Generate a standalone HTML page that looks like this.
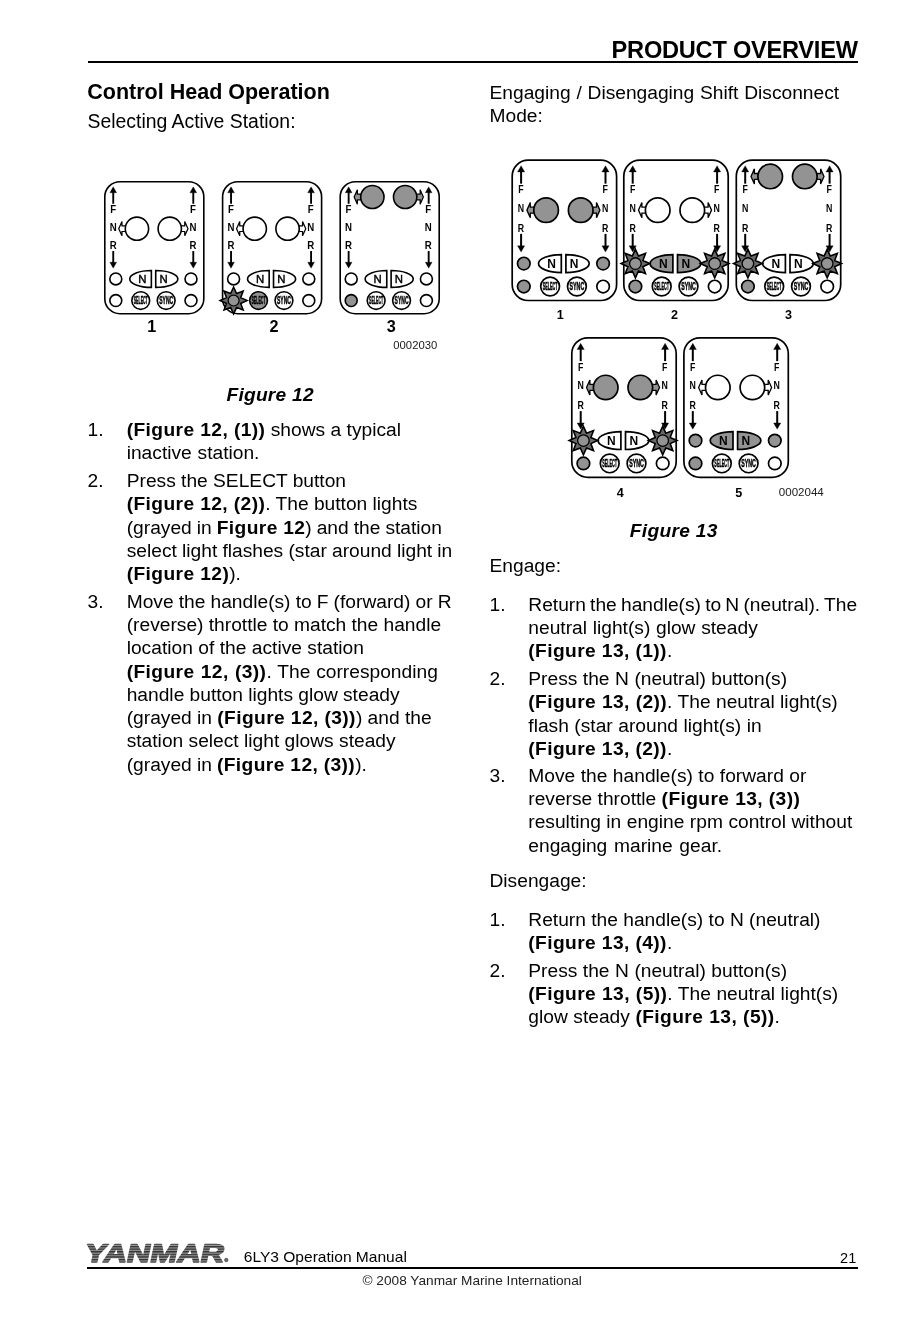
<!DOCTYPE html>
<html><head><meta charset="utf-8"><title>Product Overview</title>
<style>
html,body{margin:0;padding:0;background:#fff;}
body{width:910px;height:1330px;position:relative;overflow:hidden;will-change:transform;font-family:"Liberation Sans",sans-serif;color:#000;}
.ln{position:absolute;white-space:nowrap;line-height:1;}
.b{font-weight:bold;}
b{font-weight:bold;letter-spacing:0.4px;}
.bi{font-weight:bold;font-style:italic;}
.rule{position:absolute;background:#000;}
.figs{position:absolute;left:0;top:0;}
</style></head><body>
<svg class="figs" width="910" height="1330" viewBox="0 0 910 1330"><defs><pattern id="stripes" width="3" height="2.6" patternUnits="userSpaceOnUse">
<rect width="3" height="2.6" fill="#9a9a9a"/><rect width="3" height="1.4" fill="#303030"/></pattern></defs>
<text transform="translate(83.6,1261.5) skewX(-12) scale(1.27,1)" font-family="Liberation Sans" font-weight="bold" font-size="25.5" fill="url(#stripes)" stroke="url(#stripes)" stroke-width="1.5" stroke-linejoin="round">YANMAR</text>
<circle cx="226.3" cy="1260" r="1.7" fill="#777" stroke="#333" stroke-width="0.7"/><g transform="translate(104.80,181.70) scale(0.9483,0.9395)">
<rect x="0" y="0" width="104.40" height="140.50" rx="16" ry="16" fill="#fff" stroke="#000" stroke-width="1.70"/>
<text transform="translate(8.80,33.00) scale(0.900,1)" text-anchor="middle" font-family="Liberation Sans" font-weight="bold" font-size="11.3">F</text>
<text transform="translate(92.90,33.00) scale(0.900,1)" text-anchor="middle" font-family="Liberation Sans" font-weight="bold" font-size="11.3">F</text>
<text transform="translate(8.80,52.00) scale(0.900,1)" text-anchor="middle" font-family="Liberation Sans" font-weight="bold" font-size="11.3">N</text>
<text transform="translate(92.90,52.00) scale(0.900,1)" text-anchor="middle" font-family="Liberation Sans" font-weight="bold" font-size="11.3">N</text>
<text transform="translate(8.80,71.50) scale(0.900,1)" text-anchor="middle" font-family="Liberation Sans" font-weight="bold" font-size="11.3">R</text>
<text transform="translate(92.90,71.50) scale(0.900,1)" text-anchor="middle" font-family="Liberation Sans" font-weight="bold" font-size="11.3">R</text>
<polygon points="14.70,50.00 18.10,42.40 18.10,47.00 22.10,47.00 22.10,53.00 18.10,53.00 18.10,57.60" fill="#fff" stroke="#000" stroke-width="1.3" stroke-linejoin="miter"/>
<circle cx="33.90" cy="50.00" r="12.3" fill="#fff" stroke="#000" stroke-width="1.70"/>
<polygon points="87.70,50.00 84.30,42.40 84.30,47.00 80.30,47.00 80.30,53.00 84.30,53.00 84.30,57.60" fill="#fff" stroke="#000" stroke-width="1.3" stroke-linejoin="miter"/>
<circle cx="68.50" cy="50.00" r="12.3" fill="#fff" stroke="#000" stroke-width="1.70"/>
<path d="M49.10,94.50 A22.80,9.00 0 0 0 49.10,112.50 Z" fill="#fff" stroke="#000" stroke-width="1.70"/><text x="39.50" y="107.80" text-anchor="middle" font-family="Liberation Sans" font-weight="normal" font-size="12" fill="#000" stroke="#000" stroke-width="0.45">N</text>
<path d="M53.70,94.50 A23.30,9.00 0 0 1 53.70,112.50 Z" fill="#fff" stroke="#000" stroke-width="1.70"/><text x="62.00" y="107.80" text-anchor="middle" font-family="Liberation Sans" font-weight="normal" font-size="12" fill="#000" stroke="#000" stroke-width="0.45">N</text>
<circle cx="37.90" cy="126.50" r="9.4" fill="#fff" stroke="#000" stroke-width="1.70"/><text transform="translate(37.90,130.20) scale(0.350,1)" text-anchor="middle" font-family="Liberation Sans" font-weight="bold" font-size="10.8" fill="#000" stroke="#000" stroke-width="0.5">SELECT</text>
<circle cx="64.70" cy="126.50" r="9.4" fill="#fff" stroke="#000" stroke-width="1.70"/><text transform="translate(64.70,130.20) scale(0.490,1)" text-anchor="middle" font-family="Liberation Sans" font-weight="bold" font-size="10.8" fill="#000" stroke="#000" stroke-width="0.5">SYNC</text>
<circle cx="11.60" cy="103.50" r="6.3" fill="#fff" stroke="#000" stroke-width="1.70"/>
<circle cx="90.90" cy="103.50" r="6.3" fill="#fff" stroke="#000" stroke-width="1.70"/>
<circle cx="11.60" cy="126.50" r="6.3" fill="#fff" stroke="#000" stroke-width="1.70"/>
<circle cx="90.90" cy="126.50" r="6.3" fill="#fff" stroke="#000" stroke-width="1.70"/>
<line x1="8.90" y1="9.50" x2="8.90" y2="23.50" stroke="#000" stroke-width="2.0"/><polygon points="8.90,5.50 5.30,11.80 12.50,11.80" fill="#000" stroke="#000" stroke-width="0.3"/>
<line x1="93.30" y1="9.50" x2="93.30" y2="23.50" stroke="#000" stroke-width="2.0"/><polygon points="93.30,5.50 89.70,11.80 96.90,11.80" fill="#000" stroke="#000" stroke-width="0.3"/>
<line x1="8.90" y1="73.80" x2="8.90" y2="88.00" stroke="#000" stroke-width="2.0"/><polygon points="8.90,92.00 5.30,85.70 12.50,85.70" fill="#000" stroke="#000" stroke-width="0.3"/>
<line x1="93.30" y1="73.80" x2="93.30" y2="88.00" stroke="#000" stroke-width="2.0"/><polygon points="93.30,92.00 89.70,85.70 96.90,85.70" fill="#000" stroke="#000" stroke-width="0.3"/>
</g>
<g transform="translate(222.60,181.70) scale(0.9483,0.9395)">
<rect x="0" y="0" width="104.40" height="140.50" rx="16" ry="16" fill="#fff" stroke="#000" stroke-width="1.70"/>
<text transform="translate(8.80,33.00) scale(0.900,1)" text-anchor="middle" font-family="Liberation Sans" font-weight="bold" font-size="11.3">F</text>
<text transform="translate(92.90,33.00) scale(0.900,1)" text-anchor="middle" font-family="Liberation Sans" font-weight="bold" font-size="11.3">F</text>
<text transform="translate(8.80,52.00) scale(0.900,1)" text-anchor="middle" font-family="Liberation Sans" font-weight="bold" font-size="11.3">N</text>
<text transform="translate(92.90,52.00) scale(0.900,1)" text-anchor="middle" font-family="Liberation Sans" font-weight="bold" font-size="11.3">N</text>
<text transform="translate(8.80,71.50) scale(0.900,1)" text-anchor="middle" font-family="Liberation Sans" font-weight="bold" font-size="11.3">R</text>
<text transform="translate(92.90,71.50) scale(0.900,1)" text-anchor="middle" font-family="Liberation Sans" font-weight="bold" font-size="11.3">R</text>
<polygon points="14.70,50.00 18.10,42.40 18.10,47.00 22.10,47.00 22.10,53.00 18.10,53.00 18.10,57.60" fill="#fff" stroke="#000" stroke-width="1.3" stroke-linejoin="miter"/>
<circle cx="33.90" cy="50.00" r="12.3" fill="#fff" stroke="#000" stroke-width="1.70"/>
<polygon points="87.70,50.00 84.30,42.40 84.30,47.00 80.30,47.00 80.30,53.00 84.30,53.00 84.30,57.60" fill="#fff" stroke="#000" stroke-width="1.3" stroke-linejoin="miter"/>
<circle cx="68.50" cy="50.00" r="12.3" fill="#fff" stroke="#000" stroke-width="1.70"/>
<path d="M49.10,94.50 A22.80,9.00 0 0 0 49.10,112.50 Z" fill="#fff" stroke="#000" stroke-width="1.70"/><text x="39.50" y="107.80" text-anchor="middle" font-family="Liberation Sans" font-weight="normal" font-size="12" fill="#000" stroke="#000" stroke-width="0.45">N</text>
<path d="M53.70,94.50 A23.30,9.00 0 0 1 53.70,112.50 Z" fill="#fff" stroke="#000" stroke-width="1.70"/><text x="62.00" y="107.80" text-anchor="middle" font-family="Liberation Sans" font-weight="normal" font-size="12" fill="#000" stroke="#000" stroke-width="0.45">N</text>
<circle cx="37.90" cy="126.50" r="9.4" fill="#939393" stroke="#000" stroke-width="1.70"/><text transform="translate(37.90,130.20) scale(0.350,1)" text-anchor="middle" font-family="Liberation Sans" font-weight="bold" font-size="10.8" fill="#000" stroke="#000" stroke-width="0.5">SELECT</text>
<circle cx="64.70" cy="126.50" r="9.4" fill="#fff" stroke="#000" stroke-width="1.70"/><text transform="translate(64.70,130.20) scale(0.490,1)" text-anchor="middle" font-family="Liberation Sans" font-weight="bold" font-size="10.8" fill="#000" stroke="#000" stroke-width="0.5">SYNC</text>
<circle cx="11.60" cy="103.50" r="6.3" fill="#fff" stroke="#000" stroke-width="1.70"/>
<circle cx="90.90" cy="103.50" r="6.3" fill="#fff" stroke="#000" stroke-width="1.70"/>
<polygon points="11.60,112.20 14.70,119.02 21.71,116.39 19.08,123.40 25.90,126.50 19.08,129.60 21.71,136.61 14.70,133.98 11.60,140.80 8.50,133.98 1.49,136.61 4.12,129.60 -2.70,126.50 4.12,123.40 1.49,116.39 8.50,119.02" fill="#6a6a6a" stroke="#000" stroke-width="1.6" stroke-linejoin="miter"/><circle cx="11.60" cy="126.50" r="5.8" fill="#939393" stroke="#000" stroke-width="1.3"/>
<circle cx="90.90" cy="126.50" r="6.3" fill="#fff" stroke="#000" stroke-width="1.70"/>
<line x1="8.90" y1="9.50" x2="8.90" y2="23.50" stroke="#000" stroke-width="2.0"/><polygon points="8.90,5.50 5.30,11.80 12.50,11.80" fill="#000" stroke="#000" stroke-width="0.3"/>
<line x1="93.30" y1="9.50" x2="93.30" y2="23.50" stroke="#000" stroke-width="2.0"/><polygon points="93.30,5.50 89.70,11.80 96.90,11.80" fill="#000" stroke="#000" stroke-width="0.3"/>
<line x1="8.90" y1="73.80" x2="8.90" y2="88.00" stroke="#000" stroke-width="2.0"/><polygon points="8.90,92.00 5.30,85.70 12.50,85.70" fill="#000" stroke="#000" stroke-width="0.3"/>
<line x1="93.30" y1="73.80" x2="93.30" y2="88.00" stroke="#000" stroke-width="2.0"/><polygon points="93.30,92.00 89.70,85.70 96.90,85.70" fill="#000" stroke="#000" stroke-width="0.3"/>
</g>
<g transform="translate(340.20,181.70) scale(0.9483,0.9395)">
<rect x="0" y="0" width="104.40" height="140.50" rx="16" ry="16" fill="#fff" stroke="#000" stroke-width="1.70"/>
<text transform="translate(8.80,33.00) scale(0.900,1)" text-anchor="middle" font-family="Liberation Sans" font-weight="bold" font-size="11.3">F</text>
<text transform="translate(92.90,33.00) scale(0.900,1)" text-anchor="middle" font-family="Liberation Sans" font-weight="bold" font-size="11.3">F</text>
<text transform="translate(8.80,52.00) scale(0.900,1)" text-anchor="middle" font-family="Liberation Sans" font-weight="bold" font-size="11.3">N</text>
<text transform="translate(92.90,52.00) scale(0.900,1)" text-anchor="middle" font-family="Liberation Sans" font-weight="bold" font-size="11.3">N</text>
<text transform="translate(8.80,71.50) scale(0.900,1)" text-anchor="middle" font-family="Liberation Sans" font-weight="bold" font-size="11.3">R</text>
<text transform="translate(92.90,71.50) scale(0.900,1)" text-anchor="middle" font-family="Liberation Sans" font-weight="bold" font-size="11.3">R</text>
<polygon points="14.70,16.30 18.10,8.70 18.10,13.30 22.10,13.30 22.10,19.30 18.10,19.30 18.10,23.90" fill="#939393" stroke="#000" stroke-width="1.3" stroke-linejoin="miter"/>
<circle cx="33.90" cy="16.30" r="12.3" fill="#939393" stroke="#000" stroke-width="1.70"/>
<polygon points="87.70,16.30 84.30,8.70 84.30,13.30 80.30,13.30 80.30,19.30 84.30,19.30 84.30,23.90" fill="#939393" stroke="#000" stroke-width="1.3" stroke-linejoin="miter"/>
<circle cx="68.50" cy="16.30" r="12.3" fill="#939393" stroke="#000" stroke-width="1.70"/>
<path d="M49.10,94.50 A22.80,9.00 0 0 0 49.10,112.50 Z" fill="#fff" stroke="#000" stroke-width="1.70"/><text x="39.50" y="107.80" text-anchor="middle" font-family="Liberation Sans" font-weight="normal" font-size="12" fill="#000" stroke="#000" stroke-width="0.45">N</text>
<path d="M53.70,94.50 A23.30,9.00 0 0 1 53.70,112.50 Z" fill="#fff" stroke="#000" stroke-width="1.70"/><text x="62.00" y="107.80" text-anchor="middle" font-family="Liberation Sans" font-weight="normal" font-size="12" fill="#000" stroke="#000" stroke-width="0.45">N</text>
<circle cx="37.90" cy="126.50" r="9.4" fill="#fff" stroke="#000" stroke-width="1.70"/><text transform="translate(37.90,130.20) scale(0.350,1)" text-anchor="middle" font-family="Liberation Sans" font-weight="bold" font-size="10.8" fill="#000" stroke="#000" stroke-width="0.5">SELECT</text>
<circle cx="64.70" cy="126.50" r="9.4" fill="#fff" stroke="#000" stroke-width="1.70"/><text transform="translate(64.70,130.20) scale(0.490,1)" text-anchor="middle" font-family="Liberation Sans" font-weight="bold" font-size="10.8" fill="#000" stroke="#000" stroke-width="0.5">SYNC</text>
<circle cx="11.60" cy="103.50" r="6.3" fill="#fff" stroke="#000" stroke-width="1.70"/>
<circle cx="90.90" cy="103.50" r="6.3" fill="#fff" stroke="#000" stroke-width="1.70"/>
<circle cx="11.60" cy="126.50" r="6.3" fill="#939393" stroke="#000" stroke-width="1.70"/>
<circle cx="90.90" cy="126.50" r="6.3" fill="#fff" stroke="#000" stroke-width="1.70"/>
<line x1="8.90" y1="9.50" x2="8.90" y2="23.50" stroke="#000" stroke-width="2.0"/><polygon points="8.90,5.50 5.30,11.80 12.50,11.80" fill="#000" stroke="#000" stroke-width="0.3"/>
<line x1="93.30" y1="9.50" x2="93.30" y2="23.50" stroke="#000" stroke-width="2.0"/><polygon points="93.30,5.50 89.70,11.80 96.90,11.80" fill="#000" stroke="#000" stroke-width="0.3"/>
<line x1="8.90" y1="73.80" x2="8.90" y2="88.00" stroke="#000" stroke-width="2.0"/><polygon points="8.90,92.00 5.30,85.70 12.50,85.70" fill="#000" stroke="#000" stroke-width="0.3"/>
<line x1="93.30" y1="73.80" x2="93.30" y2="88.00" stroke="#000" stroke-width="2.0"/><polygon points="93.30,92.00 89.70,85.70 96.90,85.70" fill="#000" stroke="#000" stroke-width="0.3"/>
</g>
<g transform="translate(512.20,160.20) scale(1.0000,0.9986)">
<rect x="0" y="0" width="104.40" height="140.50" rx="16" ry="16" fill="#fff" stroke="#000" stroke-width="1.70"/>
<text transform="translate(8.80,33.00) scale(0.780,1)" text-anchor="middle" font-family="Liberation Sans" font-weight="bold" font-size="11.3">F</text>
<text transform="translate(92.90,33.00) scale(0.780,1)" text-anchor="middle" font-family="Liberation Sans" font-weight="bold" font-size="11.3">F</text>
<text transform="translate(8.80,52.00) scale(0.780,1)" text-anchor="middle" font-family="Liberation Sans" font-weight="bold" font-size="11.3">N</text>
<text transform="translate(92.90,52.00) scale(0.780,1)" text-anchor="middle" font-family="Liberation Sans" font-weight="bold" font-size="11.3">N</text>
<text transform="translate(8.80,71.50) scale(0.780,1)" text-anchor="middle" font-family="Liberation Sans" font-weight="bold" font-size="11.3">R</text>
<text transform="translate(92.90,71.50) scale(0.780,1)" text-anchor="middle" font-family="Liberation Sans" font-weight="bold" font-size="11.3">R</text>
<polygon points="14.70,50.00 18.10,42.40 18.10,47.00 22.10,47.00 22.10,53.00 18.10,53.00 18.10,57.60" fill="#939393" stroke="#000" stroke-width="1.3" stroke-linejoin="miter"/>
<circle cx="33.90" cy="50.00" r="12.3" fill="#939393" stroke="#000" stroke-width="1.70"/>
<polygon points="87.70,50.00 84.30,42.40 84.30,47.00 80.30,47.00 80.30,53.00 84.30,53.00 84.30,57.60" fill="#939393" stroke="#000" stroke-width="1.3" stroke-linejoin="miter"/>
<circle cx="68.50" cy="50.00" r="12.3" fill="#939393" stroke="#000" stroke-width="1.70"/>
<path d="M49.10,94.50 A22.80,9.00 0 0 0 49.10,112.50 Z" fill="#fff" stroke="#000" stroke-width="1.70"/><text x="39.50" y="107.80" text-anchor="middle" font-family="Liberation Sans" font-weight="bold" font-size="12" fill="#000" stroke="#000" stroke-width="0">N</text>
<path d="M53.70,94.50 A23.30,9.00 0 0 1 53.70,112.50 Z" fill="#fff" stroke="#000" stroke-width="1.70"/><text x="62.00" y="107.80" text-anchor="middle" font-family="Liberation Sans" font-weight="bold" font-size="12" fill="#000" stroke="#000" stroke-width="0">N</text>
<circle cx="37.90" cy="126.50" r="9.4" fill="#fff" stroke="#000" stroke-width="1.70"/><text transform="translate(37.90,130.20) scale(0.350,1)" text-anchor="middle" font-family="Liberation Sans" font-weight="bold" font-size="10.8" fill="#000" stroke="#000" stroke-width="0.5">SELECT</text>
<circle cx="64.70" cy="126.50" r="9.4" fill="#fff" stroke="#000" stroke-width="1.70"/><text transform="translate(64.70,130.20) scale(0.490,1)" text-anchor="middle" font-family="Liberation Sans" font-weight="bold" font-size="10.8" fill="#000" stroke="#000" stroke-width="0.5">SYNC</text>
<circle cx="11.60" cy="103.50" r="6.3" fill="#939393" stroke="#000" stroke-width="1.70"/>
<circle cx="90.90" cy="103.50" r="6.3" fill="#939393" stroke="#000" stroke-width="1.70"/>
<circle cx="11.60" cy="126.50" r="6.3" fill="#939393" stroke="#000" stroke-width="1.70"/>
<circle cx="90.90" cy="126.50" r="6.3" fill="#fff" stroke="#000" stroke-width="1.70"/>
<line x1="8.90" y1="9.50" x2="8.90" y2="23.50" stroke="#000" stroke-width="2.0"/><polygon points="8.90,5.50 5.30,11.80 12.50,11.80" fill="#000" stroke="#000" stroke-width="0.3"/>
<line x1="93.30" y1="9.50" x2="93.30" y2="23.50" stroke="#000" stroke-width="2.0"/><polygon points="93.30,5.50 89.70,11.80 96.90,11.80" fill="#000" stroke="#000" stroke-width="0.3"/>
<line x1="8.90" y1="73.80" x2="8.90" y2="88.00" stroke="#000" stroke-width="2.0"/><polygon points="8.90,92.00 5.30,85.70 12.50,85.70" fill="#000" stroke="#000" stroke-width="0.3"/>
<line x1="93.30" y1="73.80" x2="93.30" y2="88.00" stroke="#000" stroke-width="2.0"/><polygon points="93.30,92.00 89.70,85.70 96.90,85.70" fill="#000" stroke="#000" stroke-width="0.3"/>
</g>
<g transform="translate(623.80,160.20) scale(1.0000,0.9986)">
<rect x="0" y="0" width="104.40" height="140.50" rx="16" ry="16" fill="#fff" stroke="#000" stroke-width="1.70"/>
<text transform="translate(8.80,33.00) scale(0.780,1)" text-anchor="middle" font-family="Liberation Sans" font-weight="bold" font-size="11.3">F</text>
<text transform="translate(92.90,33.00) scale(0.780,1)" text-anchor="middle" font-family="Liberation Sans" font-weight="bold" font-size="11.3">F</text>
<text transform="translate(8.80,52.00) scale(0.780,1)" text-anchor="middle" font-family="Liberation Sans" font-weight="bold" font-size="11.3">N</text>
<text transform="translate(92.90,52.00) scale(0.780,1)" text-anchor="middle" font-family="Liberation Sans" font-weight="bold" font-size="11.3">N</text>
<text transform="translate(8.80,71.50) scale(0.780,1)" text-anchor="middle" font-family="Liberation Sans" font-weight="bold" font-size="11.3">R</text>
<text transform="translate(92.90,71.50) scale(0.780,1)" text-anchor="middle" font-family="Liberation Sans" font-weight="bold" font-size="11.3">R</text>
<polygon points="14.70,50.00 18.10,42.40 18.10,47.00 22.10,47.00 22.10,53.00 18.10,53.00 18.10,57.60" fill="#fff" stroke="#000" stroke-width="1.3" stroke-linejoin="miter"/>
<circle cx="33.90" cy="50.00" r="12.3" fill="#fff" stroke="#000" stroke-width="1.70"/>
<polygon points="87.70,50.00 84.30,42.40 84.30,47.00 80.30,47.00 80.30,53.00 84.30,53.00 84.30,57.60" fill="#fff" stroke="#000" stroke-width="1.3" stroke-linejoin="miter"/>
<circle cx="68.50" cy="50.00" r="12.3" fill="#fff" stroke="#000" stroke-width="1.70"/>
<path d="M49.10,94.50 A22.80,9.00 0 0 0 49.10,112.50 Z" fill="#939393" stroke="#000" stroke-width="1.70"/><text x="39.50" y="107.80" text-anchor="middle" font-family="Liberation Sans" font-weight="bold" font-size="12" fill="#000" stroke="#000" stroke-width="0">N</text>
<path d="M53.70,94.50 A23.30,9.00 0 0 1 53.70,112.50 Z" fill="#939393" stroke="#000" stroke-width="1.70"/><text x="62.00" y="107.80" text-anchor="middle" font-family="Liberation Sans" font-weight="bold" font-size="12" fill="#000" stroke="#000" stroke-width="0">N</text>
<circle cx="37.90" cy="126.50" r="9.4" fill="#fff" stroke="#000" stroke-width="1.70"/><text transform="translate(37.90,130.20) scale(0.350,1)" text-anchor="middle" font-family="Liberation Sans" font-weight="bold" font-size="10.8" fill="#000" stroke="#000" stroke-width="0.5">SELECT</text>
<circle cx="64.70" cy="126.50" r="9.4" fill="#fff" stroke="#000" stroke-width="1.70"/><text transform="translate(64.70,130.20) scale(0.490,1)" text-anchor="middle" font-family="Liberation Sans" font-weight="bold" font-size="10.8" fill="#000" stroke="#000" stroke-width="0.5">SYNC</text>
<polygon points="11.60,89.20 14.70,96.02 21.71,93.39 19.08,100.40 25.90,103.50 19.08,106.60 21.71,113.61 14.70,110.98 11.60,117.80 8.50,110.98 1.49,113.61 4.12,106.60 -2.70,103.50 4.12,100.40 1.49,93.39 8.50,96.02" fill="#6a6a6a" stroke="#000" stroke-width="1.6" stroke-linejoin="miter"/><circle cx="11.60" cy="103.50" r="5.8" fill="#939393" stroke="#000" stroke-width="1.3"/>
<polygon points="90.90,89.20 94.00,96.02 101.01,93.39 98.38,100.40 105.20,103.50 98.38,106.60 101.01,113.61 94.00,110.98 90.90,117.80 87.80,110.98 80.79,113.61 83.42,106.60 76.60,103.50 83.42,100.40 80.79,93.39 87.80,96.02" fill="#6a6a6a" stroke="#000" stroke-width="1.6" stroke-linejoin="miter"/><circle cx="90.90" cy="103.50" r="5.8" fill="#939393" stroke="#000" stroke-width="1.3"/>
<circle cx="11.60" cy="126.50" r="6.3" fill="#939393" stroke="#000" stroke-width="1.70"/>
<circle cx="90.90" cy="126.50" r="6.3" fill="#fff" stroke="#000" stroke-width="1.70"/>
<line x1="8.90" y1="9.50" x2="8.90" y2="23.50" stroke="#000" stroke-width="2.0"/><polygon points="8.90,5.50 5.30,11.80 12.50,11.80" fill="#000" stroke="#000" stroke-width="0.3"/>
<line x1="93.30" y1="9.50" x2="93.30" y2="23.50" stroke="#000" stroke-width="2.0"/><polygon points="93.30,5.50 89.70,11.80 96.90,11.80" fill="#000" stroke="#000" stroke-width="0.3"/>
<line x1="8.90" y1="73.80" x2="8.90" y2="88.00" stroke="#000" stroke-width="2.0"/><polygon points="8.90,92.00 5.30,85.70 12.50,85.70" fill="#000" stroke="#000" stroke-width="0.3"/>
<line x1="93.30" y1="73.80" x2="93.30" y2="88.00" stroke="#000" stroke-width="2.0"/><polygon points="93.30,92.00 89.70,85.70 96.90,85.70" fill="#000" stroke="#000" stroke-width="0.3"/>
</g>
<g transform="translate(736.30,160.20) scale(1.0000,0.9986)">
<rect x="0" y="0" width="104.40" height="140.50" rx="16" ry="16" fill="#fff" stroke="#000" stroke-width="1.70"/>
<text transform="translate(8.80,33.00) scale(0.780,1)" text-anchor="middle" font-family="Liberation Sans" font-weight="bold" font-size="11.3">F</text>
<text transform="translate(92.90,33.00) scale(0.780,1)" text-anchor="middle" font-family="Liberation Sans" font-weight="bold" font-size="11.3">F</text>
<text transform="translate(8.80,52.00) scale(0.780,1)" text-anchor="middle" font-family="Liberation Sans" font-weight="bold" font-size="11.3">N</text>
<text transform="translate(92.90,52.00) scale(0.780,1)" text-anchor="middle" font-family="Liberation Sans" font-weight="bold" font-size="11.3">N</text>
<text transform="translate(8.80,71.50) scale(0.780,1)" text-anchor="middle" font-family="Liberation Sans" font-weight="bold" font-size="11.3">R</text>
<text transform="translate(92.90,71.50) scale(0.780,1)" text-anchor="middle" font-family="Liberation Sans" font-weight="bold" font-size="11.3">R</text>
<polygon points="14.70,16.30 18.10,8.70 18.10,13.30 22.10,13.30 22.10,19.30 18.10,19.30 18.10,23.90" fill="#939393" stroke="#000" stroke-width="1.3" stroke-linejoin="miter"/>
<circle cx="33.90" cy="16.30" r="12.3" fill="#939393" stroke="#000" stroke-width="1.70"/>
<polygon points="87.70,16.30 84.30,8.70 84.30,13.30 80.30,13.30 80.30,19.30 84.30,19.30 84.30,23.90" fill="#939393" stroke="#000" stroke-width="1.3" stroke-linejoin="miter"/>
<circle cx="68.50" cy="16.30" r="12.3" fill="#939393" stroke="#000" stroke-width="1.70"/>
<path d="M49.10,94.50 A22.80,9.00 0 0 0 49.10,112.50 Z" fill="#fff" stroke="#000" stroke-width="1.70"/><text x="39.50" y="107.80" text-anchor="middle" font-family="Liberation Sans" font-weight="bold" font-size="12" fill="#000" stroke="#000" stroke-width="0">N</text>
<path d="M53.70,94.50 A23.30,9.00 0 0 1 53.70,112.50 Z" fill="#fff" stroke="#000" stroke-width="1.70"/><text x="62.00" y="107.80" text-anchor="middle" font-family="Liberation Sans" font-weight="bold" font-size="12" fill="#000" stroke="#000" stroke-width="0">N</text>
<circle cx="37.90" cy="126.50" r="9.4" fill="#fff" stroke="#000" stroke-width="1.70"/><text transform="translate(37.90,130.20) scale(0.350,1)" text-anchor="middle" font-family="Liberation Sans" font-weight="bold" font-size="10.8" fill="#000" stroke="#000" stroke-width="0.5">SELECT</text>
<circle cx="64.70" cy="126.50" r="9.4" fill="#fff" stroke="#000" stroke-width="1.70"/><text transform="translate(64.70,130.20) scale(0.490,1)" text-anchor="middle" font-family="Liberation Sans" font-weight="bold" font-size="10.8" fill="#000" stroke="#000" stroke-width="0.5">SYNC</text>
<polygon points="11.60,89.20 14.70,96.02 21.71,93.39 19.08,100.40 25.90,103.50 19.08,106.60 21.71,113.61 14.70,110.98 11.60,117.80 8.50,110.98 1.49,113.61 4.12,106.60 -2.70,103.50 4.12,100.40 1.49,93.39 8.50,96.02" fill="#6a6a6a" stroke="#000" stroke-width="1.6" stroke-linejoin="miter"/><circle cx="11.60" cy="103.50" r="5.8" fill="#939393" stroke="#000" stroke-width="1.3"/>
<polygon points="90.90,89.20 94.00,96.02 101.01,93.39 98.38,100.40 105.20,103.50 98.38,106.60 101.01,113.61 94.00,110.98 90.90,117.80 87.80,110.98 80.79,113.61 83.42,106.60 76.60,103.50 83.42,100.40 80.79,93.39 87.80,96.02" fill="#6a6a6a" stroke="#000" stroke-width="1.6" stroke-linejoin="miter"/><circle cx="90.90" cy="103.50" r="5.8" fill="#939393" stroke="#000" stroke-width="1.3"/>
<circle cx="11.60" cy="126.50" r="6.3" fill="#939393" stroke="#000" stroke-width="1.70"/>
<circle cx="90.90" cy="126.50" r="6.3" fill="#fff" stroke="#000" stroke-width="1.70"/>
<line x1="8.90" y1="9.50" x2="8.90" y2="23.50" stroke="#000" stroke-width="2.0"/><polygon points="8.90,5.50 5.30,11.80 12.50,11.80" fill="#000" stroke="#000" stroke-width="0.3"/>
<line x1="93.30" y1="9.50" x2="93.30" y2="23.50" stroke="#000" stroke-width="2.0"/><polygon points="93.30,5.50 89.70,11.80 96.90,11.80" fill="#000" stroke="#000" stroke-width="0.3"/>
<line x1="8.90" y1="73.80" x2="8.90" y2="88.00" stroke="#000" stroke-width="2.0"/><polygon points="8.90,92.00 5.30,85.70 12.50,85.70" fill="#000" stroke="#000" stroke-width="0.3"/>
<line x1="93.30" y1="73.80" x2="93.30" y2="88.00" stroke="#000" stroke-width="2.0"/><polygon points="93.30,92.00 89.70,85.70 96.90,85.70" fill="#000" stroke="#000" stroke-width="0.3"/>
</g>
<g transform="translate(571.80,337.80) scale(1.0000,0.9929)">
<rect x="0" y="0" width="104.40" height="140.50" rx="16" ry="16" fill="#fff" stroke="#000" stroke-width="1.70"/>
<text transform="translate(8.80,33.00) scale(0.780,1)" text-anchor="middle" font-family="Liberation Sans" font-weight="bold" font-size="11.3">F</text>
<text transform="translate(92.90,33.00) scale(0.780,1)" text-anchor="middle" font-family="Liberation Sans" font-weight="bold" font-size="11.3">F</text>
<text transform="translate(8.80,52.00) scale(0.780,1)" text-anchor="middle" font-family="Liberation Sans" font-weight="bold" font-size="11.3">N</text>
<text transform="translate(92.90,52.00) scale(0.780,1)" text-anchor="middle" font-family="Liberation Sans" font-weight="bold" font-size="11.3">N</text>
<text transform="translate(8.80,71.50) scale(0.780,1)" text-anchor="middle" font-family="Liberation Sans" font-weight="bold" font-size="11.3">R</text>
<text transform="translate(92.90,71.50) scale(0.780,1)" text-anchor="middle" font-family="Liberation Sans" font-weight="bold" font-size="11.3">R</text>
<polygon points="14.70,50.00 18.10,42.40 18.10,47.00 22.10,47.00 22.10,53.00 18.10,53.00 18.10,57.60" fill="#939393" stroke="#000" stroke-width="1.3" stroke-linejoin="miter"/>
<circle cx="33.90" cy="50.00" r="12.3" fill="#939393" stroke="#000" stroke-width="1.70"/>
<polygon points="87.70,50.00 84.30,42.40 84.30,47.00 80.30,47.00 80.30,53.00 84.30,53.00 84.30,57.60" fill="#939393" stroke="#000" stroke-width="1.3" stroke-linejoin="miter"/>
<circle cx="68.50" cy="50.00" r="12.3" fill="#939393" stroke="#000" stroke-width="1.70"/>
<path d="M49.10,94.50 A22.80,9.00 0 0 0 49.10,112.50 Z" fill="#fff" stroke="#000" stroke-width="1.70"/><text x="39.50" y="107.80" text-anchor="middle" font-family="Liberation Sans" font-weight="bold" font-size="12" fill="#000" stroke="#000" stroke-width="0">N</text>
<path d="M53.70,94.50 A23.30,9.00 0 0 1 53.70,112.50 Z" fill="#fff" stroke="#000" stroke-width="1.70"/><text x="62.00" y="107.80" text-anchor="middle" font-family="Liberation Sans" font-weight="bold" font-size="12" fill="#000" stroke="#000" stroke-width="0">N</text>
<circle cx="37.90" cy="126.50" r="9.4" fill="#fff" stroke="#000" stroke-width="1.70"/><text transform="translate(37.90,130.20) scale(0.350,1)" text-anchor="middle" font-family="Liberation Sans" font-weight="bold" font-size="10.8" fill="#000" stroke="#000" stroke-width="0.5">SELECT</text>
<circle cx="64.70" cy="126.50" r="9.4" fill="#fff" stroke="#000" stroke-width="1.70"/><text transform="translate(64.70,130.20) scale(0.490,1)" text-anchor="middle" font-family="Liberation Sans" font-weight="bold" font-size="10.8" fill="#000" stroke="#000" stroke-width="0.5">SYNC</text>
<polygon points="11.60,89.20 14.70,96.02 21.71,93.39 19.08,100.40 25.90,103.50 19.08,106.60 21.71,113.61 14.70,110.98 11.60,117.80 8.50,110.98 1.49,113.61 4.12,106.60 -2.70,103.50 4.12,100.40 1.49,93.39 8.50,96.02" fill="#6a6a6a" stroke="#000" stroke-width="1.6" stroke-linejoin="miter"/><circle cx="11.60" cy="103.50" r="5.8" fill="#939393" stroke="#000" stroke-width="1.3"/>
<polygon points="90.90,89.20 94.00,96.02 101.01,93.39 98.38,100.40 105.20,103.50 98.38,106.60 101.01,113.61 94.00,110.98 90.90,117.80 87.80,110.98 80.79,113.61 83.42,106.60 76.60,103.50 83.42,100.40 80.79,93.39 87.80,96.02" fill="#6a6a6a" stroke="#000" stroke-width="1.6" stroke-linejoin="miter"/><circle cx="90.90" cy="103.50" r="5.8" fill="#939393" stroke="#000" stroke-width="1.3"/>
<circle cx="11.60" cy="126.50" r="6.3" fill="#939393" stroke="#000" stroke-width="1.70"/>
<circle cx="90.90" cy="126.50" r="6.3" fill="#fff" stroke="#000" stroke-width="1.70"/>
<line x1="8.90" y1="9.50" x2="8.90" y2="23.50" stroke="#000" stroke-width="2.0"/><polygon points="8.90,5.50 5.30,11.80 12.50,11.80" fill="#000" stroke="#000" stroke-width="0.3"/>
<line x1="93.30" y1="9.50" x2="93.30" y2="23.50" stroke="#000" stroke-width="2.0"/><polygon points="93.30,5.50 89.70,11.80 96.90,11.80" fill="#000" stroke="#000" stroke-width="0.3"/>
<line x1="8.90" y1="73.80" x2="8.90" y2="88.00" stroke="#000" stroke-width="2.0"/><polygon points="8.90,92.00 5.30,85.70 12.50,85.70" fill="#000" stroke="#000" stroke-width="0.3"/>
<line x1="93.30" y1="73.80" x2="93.30" y2="88.00" stroke="#000" stroke-width="2.0"/><polygon points="93.30,92.00 89.70,85.70 96.90,85.70" fill="#000" stroke="#000" stroke-width="0.3"/>
</g>
<g transform="translate(683.90,337.80) scale(1.0000,0.9929)">
<rect x="0" y="0" width="104.40" height="140.50" rx="16" ry="16" fill="#fff" stroke="#000" stroke-width="1.70"/>
<text transform="translate(8.80,33.00) scale(0.780,1)" text-anchor="middle" font-family="Liberation Sans" font-weight="bold" font-size="11.3">F</text>
<text transform="translate(92.90,33.00) scale(0.780,1)" text-anchor="middle" font-family="Liberation Sans" font-weight="bold" font-size="11.3">F</text>
<text transform="translate(8.80,52.00) scale(0.780,1)" text-anchor="middle" font-family="Liberation Sans" font-weight="bold" font-size="11.3">N</text>
<text transform="translate(92.90,52.00) scale(0.780,1)" text-anchor="middle" font-family="Liberation Sans" font-weight="bold" font-size="11.3">N</text>
<text transform="translate(8.80,71.50) scale(0.780,1)" text-anchor="middle" font-family="Liberation Sans" font-weight="bold" font-size="11.3">R</text>
<text transform="translate(92.90,71.50) scale(0.780,1)" text-anchor="middle" font-family="Liberation Sans" font-weight="bold" font-size="11.3">R</text>
<polygon points="14.70,50.00 18.10,42.40 18.10,47.00 22.10,47.00 22.10,53.00 18.10,53.00 18.10,57.60" fill="#fff" stroke="#000" stroke-width="1.3" stroke-linejoin="miter"/>
<circle cx="33.90" cy="50.00" r="12.3" fill="#fff" stroke="#000" stroke-width="1.70"/>
<polygon points="87.70,50.00 84.30,42.40 84.30,47.00 80.30,47.00 80.30,53.00 84.30,53.00 84.30,57.60" fill="#fff" stroke="#000" stroke-width="1.3" stroke-linejoin="miter"/>
<circle cx="68.50" cy="50.00" r="12.3" fill="#fff" stroke="#000" stroke-width="1.70"/>
<path d="M49.10,94.50 A22.80,9.00 0 0 0 49.10,112.50 Z" fill="#939393" stroke="#000" stroke-width="1.70"/><text x="39.50" y="107.80" text-anchor="middle" font-family="Liberation Sans" font-weight="bold" font-size="12" fill="#000" stroke="#000" stroke-width="0">N</text>
<path d="M53.70,94.50 A23.30,9.00 0 0 1 53.70,112.50 Z" fill="#939393" stroke="#000" stroke-width="1.70"/><text x="62.00" y="107.80" text-anchor="middle" font-family="Liberation Sans" font-weight="bold" font-size="12" fill="#000" stroke="#000" stroke-width="0">N</text>
<circle cx="37.90" cy="126.50" r="9.4" fill="#fff" stroke="#000" stroke-width="1.70"/><text transform="translate(37.90,130.20) scale(0.350,1)" text-anchor="middle" font-family="Liberation Sans" font-weight="bold" font-size="10.8" fill="#000" stroke="#000" stroke-width="0.5">SELECT</text>
<circle cx="64.70" cy="126.50" r="9.4" fill="#fff" stroke="#000" stroke-width="1.70"/><text transform="translate(64.70,130.20) scale(0.490,1)" text-anchor="middle" font-family="Liberation Sans" font-weight="bold" font-size="10.8" fill="#000" stroke="#000" stroke-width="0.5">SYNC</text>
<circle cx="11.60" cy="103.50" r="6.3" fill="#939393" stroke="#000" stroke-width="1.70"/>
<circle cx="90.90" cy="103.50" r="6.3" fill="#939393" stroke="#000" stroke-width="1.70"/>
<circle cx="11.60" cy="126.50" r="6.3" fill="#939393" stroke="#000" stroke-width="1.70"/>
<circle cx="90.90" cy="126.50" r="6.3" fill="#fff" stroke="#000" stroke-width="1.70"/>
<line x1="8.90" y1="9.50" x2="8.90" y2="23.50" stroke="#000" stroke-width="2.0"/><polygon points="8.90,5.50 5.30,11.80 12.50,11.80" fill="#000" stroke="#000" stroke-width="0.3"/>
<line x1="93.30" y1="9.50" x2="93.30" y2="23.50" stroke="#000" stroke-width="2.0"/><polygon points="93.30,5.50 89.70,11.80 96.90,11.80" fill="#000" stroke="#000" stroke-width="0.3"/>
<line x1="8.90" y1="73.80" x2="8.90" y2="88.00" stroke="#000" stroke-width="2.0"/><polygon points="8.90,92.00 5.30,85.70 12.50,85.70" fill="#000" stroke="#000" stroke-width="0.3"/>
<line x1="93.30" y1="73.80" x2="93.30" y2="88.00" stroke="#000" stroke-width="2.0"/><polygon points="93.30,92.00 89.70,85.70 96.90,85.70" fill="#000" stroke="#000" stroke-width="0.3"/>
</g>
<text x="151.80" y="332.20" text-anchor="middle" font-family="Liberation Sans" font-weight="bold" font-size="16.2">1</text>
<text x="274.00" y="332.20" text-anchor="middle" font-family="Liberation Sans" font-weight="bold" font-size="16.2">2</text>
<text x="391.30" y="332.20" text-anchor="middle" font-family="Liberation Sans" font-weight="bold" font-size="16.2">3</text>
<text x="560.30" y="319.30" text-anchor="middle" font-family="Liberation Sans" font-weight="bold" font-size="12.6">1</text>
<text x="674.40" y="319.30" text-anchor="middle" font-family="Liberation Sans" font-weight="bold" font-size="12.6">2</text>
<text x="788.40" y="319.30" text-anchor="middle" font-family="Liberation Sans" font-weight="bold" font-size="12.6">3</text>
<text x="620.30" y="497.30" text-anchor="middle" font-family="Liberation Sans" font-weight="bold" font-size="12.6">4</text>
<text x="738.70" y="497.30" text-anchor="middle" font-family="Liberation Sans" font-weight="bold" font-size="12.6">5</text>
<text x="437.3" y="349" text-anchor="end" font-family="Liberation Sans" font-size="11.6" fill="#222" textLength="44" lengthAdjust="spacingAndGlyphs">0002030</text>
<text x="823.8" y="495.9" text-anchor="end" font-family="Liberation Sans" font-size="11.6" fill="#222" textLength="45" lengthAdjust="spacingAndGlyphs">0002044</text></svg>
<div class="ln b" style="left:611.6px;top:39.32px;font-size:23.6px;letter-spacing:-0.24px;">PRODUCT OVERVIEW</div>
<div class="rule" style="left:87.5px;top:61px;width:770.3px;height:2px;"></div>
<div class="ln b" style="left:87.30px;top:82.00px;font-size:21.50px;">Control Head Operation</div>
<div class="ln " style="left:87.50px;top:112.48px;font-size:19.40px;">Selecting Active Station:</div>
<div class="ln bi" style="left:226.50px;top:385.15px;font-size:19.20px;letter-spacing:0.22px;">Figure 12</div>
<div class="ln bi" style="left:629.80px;top:520.95px;font-size:19.20px;letter-spacing:0.3px;">Figure 13</div>
<div class="ln " style="left:87.50px;top:419.75px;font-size:19.20px;">1.</div>
<div class="ln " style="left:126.70px;top:419.75px;font-size:19.20px;word-spacing:0.04px;"><b>(Figure 12, (1))</b> shows a typical</div>
<div class="ln " style="left:126.70px;top:442.75px;font-size:19.20px;word-spacing:0.50px;">inactive station.</div>
<div class="ln " style="left:87.50px;top:471.15px;font-size:19.20px;">2.</div>
<div class="ln " style="left:126.70px;top:471.15px;font-size:19.20px;">Press the SELECT button</div>
<div class="ln " style="left:126.70px;top:494.45px;font-size:19.20px;word-spacing:-0.02px;"><b>(Figure 12, (2))</b>. The button lights</div>
<div class="ln " style="left:126.70px;top:517.75px;font-size:19.20px;word-spacing:-0.32px;">(grayed in <b>Figure 12</b>) and the station</div>
<div class="ln " style="left:126.70px;top:541.05px;font-size:19.20px;word-spacing:-0.13px;">select light flashes (star around light in</div>
<div class="ln " style="left:126.70px;top:564.35px;font-size:19.20px;"><b>(Figure 12)</b>).</div>
<div class="ln " style="left:87.50px;top:591.65px;font-size:19.20px;">3.</div>
<div class="ln " style="left:126.70px;top:591.65px;font-size:19.20px;word-spacing:-0.21px;">Move the handle(s) to F (forward) or R</div>
<div class="ln " style="left:126.70px;top:614.95px;font-size:19.20px;word-spacing:-0.04px;">(reverse) throttle to match the handle</div>
<div class="ln " style="left:126.70px;top:638.25px;font-size:19.20px;word-spacing:0.10px;">location of the active station</div>
<div class="ln " style="left:126.70px;top:661.55px;font-size:19.20px;word-spacing:0.55px;"><b>(Figure 12, (3))</b>. The corresponding</div>
<div class="ln " style="left:126.70px;top:684.85px;font-size:19.20px;word-spacing:-0.05px;">handle button lights glow steady</div>
<div class="ln " style="left:126.70px;top:708.15px;font-size:19.20px;word-spacing:-0.02px;">(grayed in <b>(Figure 12, (3))</b>) and the</div>
<div class="ln " style="left:126.70px;top:731.45px;font-size:19.20px;word-spacing:0.03px;">station select light glows steady</div>
<div class="ln " style="left:126.70px;top:754.75px;font-size:19.20px;word-spacing:-0.20px;">(grayed in <b>(Figure 12, (3))</b>).</div>
<div class="ln " style="left:489.50px;top:82.65px;font-size:19.20px;word-spacing:0.47px;">Engaging / Disengaging Shift Disconnect</div>
<div class="ln " style="left:489.50px;top:106.45px;font-size:19.20px;">Mode:</div>
<div class="ln " style="left:489.50px;top:556.15px;font-size:19.20px;">Engage:</div>
<div class="ln " style="left:489.50px;top:594.75px;font-size:19.20px;">1.</div>
<div class="ln " style="left:528.30px;top:594.75px;font-size:19.20px;word-spacing:-1.13px;">Return the handle(s) to N (neutral). The</div>
<div class="ln " style="left:528.30px;top:618.05px;font-size:19.20px;word-spacing:0.40px;">neutral light(s) glow steady</div>
<div class="ln " style="left:528.30px;top:641.35px;font-size:19.20px;"><b>(Figure 13, (1))</b>.</div>
<div class="ln " style="left:489.50px;top:669.15px;font-size:19.20px;">2.</div>
<div class="ln " style="left:528.30px;top:669.15px;font-size:19.20px;word-spacing:0.17px;">Press the N (neutral) button(s)</div>
<div class="ln " style="left:528.30px;top:692.45px;font-size:19.20px;word-spacing:0.10px;"><b>(Figure 13, (2))</b>. The neutral light(s)</div>
<div class="ln " style="left:528.30px;top:715.75px;font-size:19.20px;word-spacing:0.20px;">flash (star around light(s) in</div>
<div class="ln " style="left:528.30px;top:739.05px;font-size:19.20px;"><b>(Figure 13, (2))</b>.</div>
<div class="ln " style="left:489.50px;top:765.75px;font-size:19.20px;">3.</div>
<div class="ln " style="left:528.30px;top:765.75px;font-size:19.20px;word-spacing:0.16px;">Move the handle(s) to forward or</div>
<div class="ln " style="left:528.30px;top:789.05px;font-size:19.20px;">reverse throttle <b>(Figure 13, (3))</b></div>
<div class="ln " style="left:528.30px;top:812.35px;font-size:19.20px;word-spacing:0.16px;">resulting in engine rpm control without</div>
<div class="ln " style="left:528.30px;top:835.65px;font-size:19.20px;word-spacing:1.40px;">engaging marine gear.</div>
<div class="ln " style="left:489.50px;top:871.05px;font-size:19.20px;">Disengage:</div>
<div class="ln " style="left:489.50px;top:909.65px;font-size:19.20px;">1.</div>
<div class="ln " style="left:528.30px;top:909.65px;font-size:19.20px;">Return the handle(s) to N (neutral)</div>
<div class="ln " style="left:528.30px;top:932.95px;font-size:19.20px;"><b>(Figure 13, (4))</b>.</div>
<div class="ln " style="left:489.50px;top:960.85px;font-size:19.20px;">2.</div>
<div class="ln " style="left:528.30px;top:960.85px;font-size:19.20px;word-spacing:0.17px;">Press the N (neutral) button(s)</div>
<div class="ln " style="left:528.30px;top:984.15px;font-size:19.20px;word-spacing:0.20px;"><b>(Figure 13, (5))</b>. The neutral light(s)</div>
<div class="ln " style="left:528.30px;top:1007.45px;font-size:19.20px;word-spacing:0.25px;">glow steady <b>(Figure 13, (5))</b>.</div>
<div class="ln " style="left:243.80px;top:1249.44px;font-size:15.55px;">6LY3 Operation Manual</div>
<div class="ln" style="right:53.80px;top:1250.63px;font-size:14.5px;">21</div>
<div class="rule" style="left:87px;top:1267px;width:771px;height:1.8px;"></div>
<div class="ln " style="left:362.50px;top:1274.02px;font-size:13.68px;color:#222;">&copy; 2008 Yanmar Marine International</div>
</body></html>
